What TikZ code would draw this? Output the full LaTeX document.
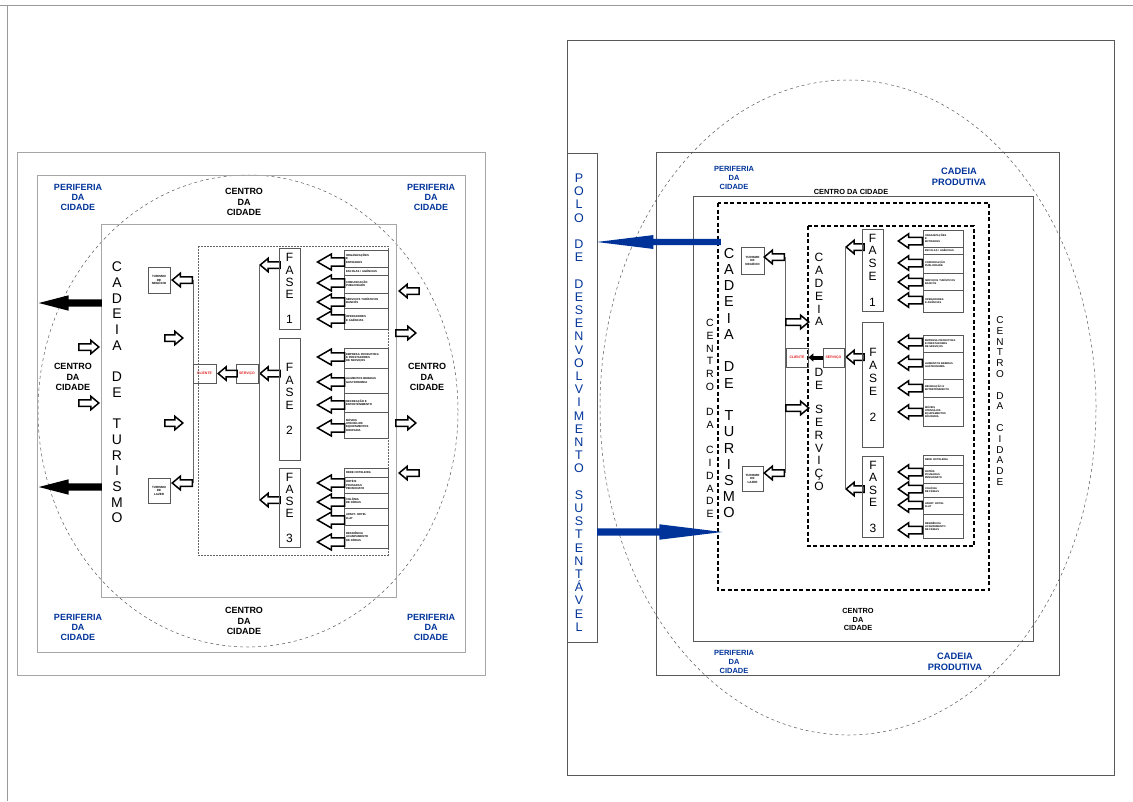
\documentclass[tikz,border=0pt]{standalone}
\usepackage{fontspec}
\setmainfont{Liberation Sans}
\usepackage{tikz}
\usetikzlibrary{arrows.meta, positioning, shapes.arrows}
\usepackage{xcolor}
\definecolor{poloblau}{RGB}{0,51,153}
\definecolor{kundenrot}{RGB}{225,30,30}

\tikzset{
  rahmen/.style={draw=gray!70, line width=0.9pt},
  rahmenR/.style={draw=gray!70!black, line width=0.9pt},
  strich/.style={draw=black, line width=1.3pt, dash pattern=on 4pt off 2.5pt},
  harr/.style={single arrow, draw=black, fill=white, line width=1.5pt, inner sep=2.5pt,
    single arrow head extend=3.5pt, single arrow tip angle=80, minimum height=20pt},
  larr/.style={harr, inner sep=3.3pt, single arrow head extend=4pt, single arrow tip angle=60, minimum height=27pt},
  larrR/.style={harr, inner sep=3pt, single arrow head extend=3.5pt, single arrow tip angle=70, minimum height=24pt},
  lft/.style={shape border rotate=180},
  schwarz/.style={single arrow, fill=black, inner sep=3.5pt, single arrow head extend=4pt,
    single arrow tip angle=29, minimum height=63pt},
  blaupfeil/.style={single arrow, fill=poloblau, inner sep=3pt, single arrow head extend=3.75pt,
    single arrow tip angle=14, minimum height=124pt},
  liste/.style={draw=gray!70!black, line width=0.8pt, minimum width=44pt, text width=40pt,
    inner sep=1.5pt, align=left, font=\fontsize{2.8}{3.3}\selectfont\bfseries},
  listeR/.style={liste, minimum width=40pt, text width=36pt, font=\fontsize{2.6}{3}\selectfont\bfseries},
  kbox/.style={draw=gray!70!black, line width=0.8pt, inner sep=0pt, align=center,
    font=\fontsize{3}{3.5}\selectfont\bfseries},
  kunde/.style={kbox, text=kundenrot, minimum height=19pt, font=\fontsize{3.5}{4}\selectfont\bfseries},
  fase/.style={draw=gray!70!black, line width=0.8pt, inner sep=0pt, minimum width=21pt, align=center},
  peri/.style={text=poloblau, align=center, font=\fontsize{9}{10}\selectfont\bfseries},
  zentrum/.style={align=center, font=\fontsize{9}{10.3}\selectfont\bfseries},
  senk/.style={align=center, inner sep=0pt},
}

\begin{document}
\begin{tikzpicture}[x=1pt, y=-1pt]
  \useasboundingbox (0,0) rectangle (1133,801);
  % Seitenrand
  \draw[gray!80] (0,5) -- (1133,5) (7,5) -- (7,801);

  % ---------- links ----------
  \draw[gray!70!black, dashed, line width=0.5pt] (248,411) ellipse [x radius=210pt, y radius=236pt];
  \draw[rahmen] (17,152) rectangle (485,675);
  \draw[rahmen] (37,175) rectangle (465,652);
  \draw[rahmen] (101,224) rectangle (396,597);
  \draw[gray!80!black, line width=0.6pt, dash pattern=on 2pt off 1pt] (198,246) rectangle (388,555);

  \node[peri] (lPerA) at (78,197) {PERIFERIA\\DA\\CIDADE};
  \node[peri] (lPerB) at (431,197) {PERIFERIA\\DA\\CIDADE};
  \node[peri] (lPerC) at (78,627) {PERIFERIA\\DA\\CIDADE};
  \node[peri] (lPerD) at (431,627) {PERIFERIA\\DA\\CIDADE};
  \node[zentrum] (lCenA) at (244,202) {CENTRO\\DA\\CIDADE};
  \node[zentrum] (lCenB) at (244,621) {CENTRO\\DA\\CIDADE};
  \node[zentrum] (lCenC) at (73,377) {CENTRO\\DA\\CIDADE};
  \node[zentrum] (lCenD) at (427,377) {CENTRO\\DA\\CIDADE};

  \node[senk, font=\fontsize{14}{15.7}\selectfont] (lTur) at (117,392.5)
    {C\\A\\D\\E\\I\\A\\~\\D\\E\\~\\T\\U\\R\\I\\S\\M\\O};

  % nach außen / nach innen
  \node[schwarz, lft, anchor=tip] (lOutA) at (38,303) {};
  \node[schwarz, lft, anchor=tip] (lOutB) at (38,487) {};
  \node[harr, anchor=tip] (lInA) at (100,347) {};
  \node[harr, anchor=tip] (lInB) at (100,403) {};
  \node[harr, lft, anchor=tip] (lReA) at (398,291) {};
  \node[harr, anchor=tip] (lReB) at (417,333) {};
  \node[harr, anchor=tip] (lReC) at (417,423) {};
  \node[harr, lft, anchor=tip] (lReD) at (398,473) {};

  % Turismo
  \node[kbox, minimum width=22pt, minimum height=26pt] (lNeg) at (159,280) {TURISMO\\DE\\NEGÓCIO};
  \node[kbox, minimum width=22pt, minimum height=25pt] (lLaz) at (159,490.5) {TURISMO\\DE\\LAZER};
  \node[harr, lft, anchor=tail] (lNegA) at (193,280) {};
  \node[harr, lft, anchor=tail] (lLazA) at (193,483) {};
  \draw[gray!80!black, line width=0.8pt] (lNegA.tail) -- (lLazA.tail);
  \node[harr, minimum height=18pt, anchor=tip] (lFrA) at (184,338) {};
  \node[harr, minimum height=18pt, anchor=tip] (lFrB) at (184,423) {};

  % Cliente / Serviço
  \node[kunde, minimum width=23pt] (lCli) at (204.5,373.5) {CLIENTE};
  \node[kunde, minimum width=22pt] (lSrv) at (247,373.5) {SERVIÇO};
  \node[harr, lft, minimum height=19pt, anchor=tip] (lCliA) at (217,373.5) {};
  \node[harr, lft, anchor=tip] (lSrvA) at (259,373.5) {};
  \node[harr, lft, anchor=tip] (lF1A) at (259,265) {};
  \node[harr, lft, anchor=tip] (lF3A) at (259,500) {};
  \draw[gray!80!black, line width=0.8pt] (lF1A.tip) -- (lF3A.tip);

  % Fases
  \node[fase, minimum height=81pt, font=\fontsize{12}{12.4}\selectfont] (lF1) at (289.5,288.5) {F\\A\\S\\E\\~\\1};
  \node[fase, minimum height=122pt, font=\fontsize{12}{12.6}\selectfont] (lF2) at (289.5,399) {F\\A\\S\\E\\~\\2};
  \node[fase, minimum height=79pt, font=\fontsize{12}{12.2}\selectfont] (lF3) at (289.5,507.5) {F\\A\\S\\E\\~\\3};

  \node[liste, minimum height=17pt] (lOrg) at (366,258.5) {ORGANIZAÇÕES\\E\\ENTIDADES};
  \node[liste, minimum height=8pt] (lEsc) at (366,271) {ESCOLAS / AGÊNCIAS};
  \node[liste, minimum height=18pt] (lCom) at (366,284) {COMUNICAÇÃO\\PUBLICIDADE};
  \node[liste, minimum height=15pt] (lSer) at (366,300.5) {SERVIÇOS TURÍSTICOS\\BANCOS};
  \node[liste, minimum height=21pt] (lOpe) at (366,318.5) {OPERADORES\\E AGÊNCIAS};
  \node[liste, minimum height=20pt] (lEmp) at (366,358) {EMPRESA PRODUTORA\\E PRESTADORES\\DE SERVIÇOS};
  \node[liste, minimum height=25pt] (lAli) at (366,380.5) {ALIMENTOS BEBIDAS\\GASTRONOMIA};
  \node[liste, minimum height=19pt] (lRec) at (366,402.5) {RECREAÇÃO E\\ENTRETENIMENTO};
  \node[liste, minimum height=26pt] (lMov) at (366,425) {MÓVEIS\\UTENSÍLIOS\\EQUIPAMENTOS\\ROUPARIA};
  \node[liste, minimum height=9pt] (lRed) at (366,472.5) {REDE HOTELEIRA};
  \node[liste, minimum height=16pt] (lHot) at (366,485) {HOTÉIS\\POUSADAS\\PENSIONATO};
  \node[liste, minimum height=15pt] (lCol) at (366,500.5) {COLÔNIA\\DE FÉRIAS};
  \node[liste, minimum height=17pt] (lApa) at (366,516.5) {APART. HOTEL\\FLAT};
  \node[liste, minimum height=23pt] (lRes) at (366,536.5) {RESIDÊNCIA\\ACAMPAMENTO\\DE FÉRIAS};

  \node[larr, lft, anchor=tip] (aL1) at (316,262) {};
  \node[larr, lft, anchor=tip] (aL2) at (316,283) {};
  \node[larr, lft, anchor=tip] (aL3) at (316,302) {};
  \node[larr, lft, anchor=tip] (aL4) at (316,319) {};
  \node[larr, lft, anchor=tip] (aL5) at (316,357) {};
  \node[larr, lft, anchor=tip] (aL6) at (316,382) {};
  \node[larr, lft, anchor=tip] (aL7) at (316,405) {};
  \node[larr, lft, anchor=tip] (aL8) at (316,428) {};
  \node[larr, lft, anchor=tip] (aL9) at (316,483) {};
  \node[larr, lft, anchor=tip] (aL10) at (316,502) {};
  \node[larr, lft, anchor=tip] (aL11) at (316,520) {};
  \node[larr, lft, anchor=tip] (aL12) at (316,542) {};

  % ---------- rechts ----------
  \draw[gray!70!black, dashed, line width=0.5pt] (848,407.5) ellipse [x radius=248pt, y radius=327.5pt];
  \draw[rahmenR] (567,40) rectangle (1114,775);
  \draw[rahmenR] (656,152) rectangle (1059,675);
  \draw[rahmenR] (693,196) rectangle (1033,641);
  \draw[strich] (718,203) rectangle (989,590);
  \draw[strich] (808,226) rectangle (974,546);

  \node[draw=gray!70!black, line width=0.9pt, minimum width=30pt, minimum height=489pt, inner sep=0pt] (polo) at (582,397.5) {};
  \node[senk, text=poloblau, font=\fontsize{12.5}{13.2}\selectfont] (poloTxt) at (579,402.5)
    {P\\O\\L\\O\\~\\D\\E\\~\\D\\E\\S\\E\\N\\V\\O\\L\\V\\I\\M\\E\\N\\T\\O\\~\\S\\U\\S\\T\\E\\N\\T\\Á\\V\\E\\L};
  \node[blaupfeil, lft, anchor=tail] (bArrA) at (721,242) {};
  \node[blaupfeil, minimum height=125pt, inner sep=3.5pt, single arrow head extend=4pt, anchor=tail] (bArrB) at (597,532) {};

  \node[peri, font=\fontsize{7.5}{8.6}\selectfont\bfseries] (rPerA) at (734,178) {PERIFERIA\\DA\\CIDADE};
  \node[peri, font=\fontsize{7.5}{8.6}\selectfont\bfseries] (rPerB) at (734,662) {PERIFERIA\\DA\\CIDADE};
  \node[peri, font=\fontsize{9.3}{11}\selectfont\bfseries] (rProA) at (959,176.5) {CADEIA\\PRODUTIVA};
  \node[peri, font=\fontsize{9.3}{11}\selectfont\bfseries] (rProB) at (955,661.5) {CADEIA\\PRODUTIVA};
  \node[zentrum, font=\fontsize{7.4}{8.5}\selectfont\bfseries] (rCenA) at (851,192) {CENTRO DA CIDADE};
  \node[zentrum, font=\fontsize{7.4}{8.5}\selectfont\bfseries] (rCenB) at (858,619.5) {CENTRO\\DA\\CIDADE};

  \node[senk, font=\fontsize{10.5}{12.73}\selectfont] (rCenL) at (710,418.5)
    {C\\E\\N\\T\\R\\O\\~\\D\\A\\~\\C\\I\\D\\A\\D\\E};
  \node[senk, font=\fontsize{10}{10.8}\selectfont] (rCenR) at (1000,401)
    {C\\E\\N\\T\\R\\O\\~\\D\\A\\~\\C\\I\\D\\A\\D\\E};
  \node[senk, font=\fontsize{14.5}{16.25}\selectfont] (rTur) at (729,383)
    {C\\A\\D\\E\\I\\A\\~\\D\\E\\~\\T\\U\\R\\I\\S\\M\\O};
  \node[senk, font=\fontsize{12}{12.8}\selectfont] (rSer) at (819,372)
    {C\\A\\D\\E\\I\\A\\[38pt]D\\E\\[11.4pt]S\\E\\R\\V\\I\\Ç\\O};

  % Turismo
  \node[kbox, minimum width=23pt, minimum height=27pt] (rNeg) at (752.5,260.5) {TURISMO\\DE\\NEGÓCIO};
  \node[kbox, minimum width=21pt, minimum height=25pt] (rLaz) at (752.5,478.5) {TURISMO\\DE\\LAZER};
  \node[harr, lft, anchor=tail] (rNegA) at (785,257) {};
  \node[harr, lft, anchor=tail] (rLazA) at (785,473) {};
  \draw[gray!80!black, line width=0.8pt] (rNegA.tail) -- (rLazA.tail);
  \node[harr, minimum height=23pt, anchor=tail] (rFrA) at (785,322) {};
  \node[harr, minimum height=23pt, anchor=tail] (rFrB) at (785,408) {};

  % Cliente / Serviço
  \node[kunde, minimum width=22pt] (rCli) at (797,357.5) {CLIENTE};
  \node[kunde, minimum width=21pt] (rSrv) at (833.5,357.5) {SERVIÇO};
  \draw[line width=4pt, -{Triangle[length=5pt, width=8pt]}] (rSrv.west) -- (rCli.east);
  \node[harr, lft, minimum height=18pt, anchor=tip] (rSrvA) at (845,357) {};
  \node[harr, lft, minimum height=18pt, anchor=tip] (rF1A) at (845,247) {};
  \node[harr, lft, minimum height=18pt, anchor=tip] (rF3A) at (845,489) {};
  \draw[gray!80!black, line width=0.8pt] (rF1A.tip) -- (rF3A.tip);

  % Fases
  \node[fase, minimum height=82pt, font=\fontsize{12}{12.8}\selectfont] (rF1) at (872.5,270) {F\\A\\S\\E\\~\\1};
  \node[fase, minimum height=125pt, font=\fontsize{12}{13}\selectfont] (rF2) at (873,384.5) {F\\A\\S\\E\\~\\2};
  \node[fase, minimum height=81pt, font=\fontsize{12}{12.6}\selectfont] (rF3) at (873,496.5) {F\\A\\S\\E\\~\\3};

  \node[listeR, minimum height=17pt] (rOrg) at (943,238.5) {ORGANIZAÇÕES\\E\\ENTIDADES};
  \node[listeR, minimum height=7pt] (rEsc) at (943,250.5) {ESCOLAS / AGÊNCIAS};
  \node[listeR, minimum height=19pt] (rCom) at (943,263.5) {COMUNICAÇÃO\\PUBLICIDADE};
  \node[listeR, minimum height=17pt] (rSer) at (943,281.5) {SERVIÇOS TURÍSTICOS\\BANCOS};
  \node[listeR, minimum height=22pt] (rOpe) at (943,301) {OPERADORES\\E AGÊNCIAS};
  \node[listeR, minimum height=17pt] (rEmp) at (943,343.5) {EMPRESA PRODUTORA\\E PRESTADORES\\DE SERVIÇOS};
  \node[listeR, minimum height=27pt] (rAli) at (943,365.5) {ALIMENTOS BEBIDAS\\GASTRONOMIA};
  \node[listeR, minimum height=18pt] (rRec) at (943,388) {RECREAÇÃO E\\ENTRETENIMENTO};
  \node[listeR, minimum height=29pt] (rMov) at (943,411.5) {MÓVEIS\\UTENSÍLIOS\\EQUIPAMENTOS\\ROUPARIA};
  \node[listeR, minimum height=10pt] (rRed) at (943,460) {REDE HOTELEIRA};
  \node[listeR, minimum height=18pt] (rHot) at (943,474) {HOTÉIS\\POUSADAS\\PENSIONATO};
  \node[listeR, minimum height=14pt] (rCol) at (943,490) {COLÔNIA\\DE FÉRIAS};
  \node[listeR, minimum height=17pt] (rApa) at (943,505.5) {APART. HOTEL\\FLAT};
  \node[listeR, minimum height=24pt] (rRes) at (943,526) {RESIDÊNCIA\\ACAMPAMENTO\\DE FÉRIAS};

  \node[larrR, lft, anchor=tip] (aR1) at (897,241) {};
  \node[larrR, lft, anchor=tip] (aR2) at (897,263) {};
  \node[larrR, lft, anchor=tip] (aR3) at (897,282) {};
  \node[larrR, lft, anchor=tip] (aR4) at (897,300) {};
  \node[larrR, lft, anchor=tip] (aR5) at (897,342) {};
  \node[larrR, lft, anchor=tip] (aR6) at (897,363) {};
  \node[larrR, lft, anchor=tip] (aR7) at (897,388) {};
  \node[larrR, lft, anchor=tip] (aR8) at (897,412) {};
  \node[larrR, lft, anchor=tip] (aR9) at (897,472) {};
  \node[larrR, lft, anchor=tip] (aR10) at (897,489) {};
  \node[larrR, lft, anchor=tip] (aR11) at (897,505) {};
  \node[larrR, lft, anchor=tip] (aR12) at (897,530) {};
\end{tikzpicture}
\end{document}
